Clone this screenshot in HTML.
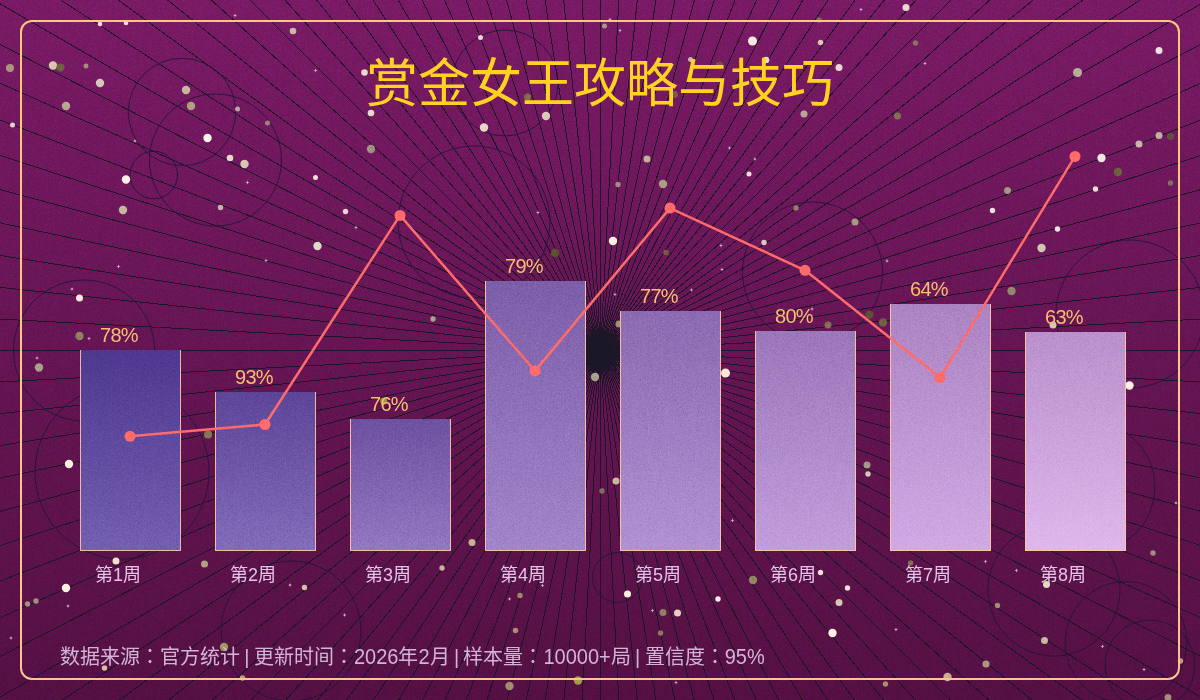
<!DOCTYPE html>
<html lang="zh-TW"><head><meta charset="utf-8">
<style>
html,body{margin:0;padding:0;}
body{width:1200px;height:700px;overflow:hidden;position:relative;font-family:"Liberation Sans",sans-serif;background:linear-gradient(180deg,rgb(122,26,102) 0%,rgb(99,20,81) 57%,rgb(85,16,67) 100%);}
svg{position:absolute;left:0;top:0;}
.title{position:absolute;left:0;width:1200px;top:50px;text-align:center;font-size:52px;line-height:68px;color:#ffd21f;}
.pct{position:absolute;font-size:20px;line-height:24px;color:#fbbd70;letter-spacing:-0.7px;}
.xl{position:absolute;top:562px;width:100px;text-align:center;font-size:18px;line-height:26px;color:#e6c3e6;}
.foot{position:absolute;left:60px;top:643px;font-size:20px;line-height:28px;color:#d4b4d4;white-space:nowrap;word-spacing:-1.2px;}
.d{display:inline-block;transform:scaleY(1.07);transform-origin:50% 75%;}
</style></head><body>
<svg width="1200" height="700" viewBox="0 0 1200 700">
<defs>
<filter id="noise" x="0" y="0" width="100%" height="100%" color-interpolation-filters="sRGB">
<feTurbulence type="fractalNoise" baseFrequency="1.4" numOctaves="1" seed="3"/>
<feColorMatrix type="matrix" values="0.33 0.33 0.33 0 0  0.33 0.33 0.33 0 0  0.33 0.33 0.33 0 0  0 0 0 0 1"/>
</filter>
</defs>
<g stroke="rgb(25,22,38)" stroke-opacity="0.95" stroke-width="1" fill="none" shape-rendering="crispEdges">
<line x1="600.5" y1="350.5" x2="1600.5" y2="350.5"/>
<line x1="600.5" y1="350.5" x2="1599.1" y2="402.8"/>
<line x1="600.5" y1="350.5" x2="1595.0" y2="455.0"/>
<line x1="600.5" y1="350.5" x2="1588.2" y2="506.9"/>
<line x1="600.5" y1="350.5" x2="1578.6" y2="558.4"/>
<line x1="600.5" y1="350.5" x2="1566.4" y2="609.3"/>
<line x1="600.5" y1="350.5" x2="1551.6" y2="659.5"/>
<line x1="600.5" y1="350.5" x2="1534.1" y2="708.9"/>
<line x1="600.5" y1="350.5" x2="1514.0" y2="757.2"/>
<line x1="600.5" y1="350.5" x2="1491.5" y2="804.5"/>
<line x1="600.5" y1="350.5" x2="1466.5" y2="850.5"/>
<line x1="600.5" y1="350.5" x2="1439.2" y2="895.1"/>
<line x1="600.5" y1="350.5" x2="1409.5" y2="938.3"/>
<line x1="600.5" y1="350.5" x2="1377.6" y2="979.8"/>
<line x1="600.5" y1="350.5" x2="1343.6" y2="1019.6"/>
<line x1="600.5" y1="350.5" x2="1307.6" y2="1057.6"/>
<line x1="600.5" y1="350.5" x2="1269.6" y2="1093.6"/>
<line x1="600.5" y1="350.5" x2="1229.8" y2="1127.6"/>
<line x1="600.5" y1="350.5" x2="1188.3" y2="1159.5"/>
<line x1="600.5" y1="350.5" x2="1145.1" y2="1189.2"/>
<line x1="600.5" y1="350.5" x2="1100.5" y2="1216.5"/>
<line x1="600.5" y1="350.5" x2="1054.5" y2="1241.5"/>
<line x1="600.5" y1="350.5" x2="1007.2" y2="1264.0"/>
<line x1="600.5" y1="350.5" x2="958.9" y2="1284.1"/>
<line x1="600.5" y1="350.5" x2="909.5" y2="1301.6"/>
<line x1="600.5" y1="350.5" x2="859.3" y2="1316.4"/>
<line x1="600.5" y1="350.5" x2="808.4" y2="1328.6"/>
<line x1="600.5" y1="350.5" x2="756.9" y2="1338.2"/>
<line x1="600.5" y1="350.5" x2="705.0" y2="1345.0"/>
<line x1="600.5" y1="350.5" x2="652.8" y2="1349.1"/>
<line x1="600.5" y1="350.5" x2="600.5" y2="1350.5"/>
<line x1="600.5" y1="350.5" x2="548.2" y2="1349.1"/>
<line x1="600.5" y1="350.5" x2="496.0" y2="1345.0"/>
<line x1="600.5" y1="350.5" x2="444.1" y2="1338.2"/>
<line x1="600.5" y1="350.5" x2="392.6" y2="1328.6"/>
<line x1="600.5" y1="350.5" x2="341.7" y2="1316.4"/>
<line x1="600.5" y1="350.5" x2="291.5" y2="1301.6"/>
<line x1="600.5" y1="350.5" x2="242.1" y2="1284.1"/>
<line x1="600.5" y1="350.5" x2="193.8" y2="1264.0"/>
<line x1="600.5" y1="350.5" x2="146.5" y2="1241.5"/>
<line x1="600.5" y1="350.5" x2="100.5" y2="1216.5"/>
<line x1="600.5" y1="350.5" x2="55.9" y2="1189.2"/>
<line x1="600.5" y1="350.5" x2="12.7" y2="1159.5"/>
<line x1="600.5" y1="350.5" x2="-28.8" y2="1127.6"/>
<line x1="600.5" y1="350.5" x2="-68.6" y2="1093.6"/>
<line x1="600.5" y1="350.5" x2="-106.6" y2="1057.6"/>
<line x1="600.5" y1="350.5" x2="-142.6" y2="1019.6"/>
<line x1="600.5" y1="350.5" x2="-176.6" y2="979.8"/>
<line x1="600.5" y1="350.5" x2="-208.5" y2="938.3"/>
<line x1="600.5" y1="350.5" x2="-238.2" y2="895.1"/>
<line x1="600.5" y1="350.5" x2="-265.5" y2="850.5"/>
<line x1="600.5" y1="350.5" x2="-290.5" y2="804.5"/>
<line x1="600.5" y1="350.5" x2="-313.0" y2="757.2"/>
<line x1="600.5" y1="350.5" x2="-333.1" y2="708.9"/>
<line x1="600.5" y1="350.5" x2="-350.6" y2="659.5"/>
<line x1="600.5" y1="350.5" x2="-365.4" y2="609.3"/>
<line x1="600.5" y1="350.5" x2="-377.6" y2="558.4"/>
<line x1="600.5" y1="350.5" x2="-387.2" y2="506.9"/>
<line x1="600.5" y1="350.5" x2="-394.0" y2="455.0"/>
<line x1="600.5" y1="350.5" x2="-398.1" y2="402.8"/>
<line x1="600.5" y1="350.5" x2="-399.5" y2="350.5"/>
<line x1="600.5" y1="350.5" x2="-398.1" y2="298.2"/>
<line x1="600.5" y1="350.5" x2="-394.0" y2="246.0"/>
<line x1="600.5" y1="350.5" x2="-387.2" y2="194.1"/>
<line x1="600.5" y1="350.5" x2="-377.6" y2="142.6"/>
<line x1="600.5" y1="350.5" x2="-365.4" y2="91.7"/>
<line x1="600.5" y1="350.5" x2="-350.6" y2="41.5"/>
<line x1="600.5" y1="350.5" x2="-333.1" y2="-7.9"/>
<line x1="600.5" y1="350.5" x2="-313.0" y2="-56.2"/>
<line x1="600.5" y1="350.5" x2="-290.5" y2="-103.5"/>
<line x1="600.5" y1="350.5" x2="-265.5" y2="-149.5"/>
<line x1="600.5" y1="350.5" x2="-238.2" y2="-194.1"/>
<line x1="600.5" y1="350.5" x2="-208.5" y2="-237.3"/>
<line x1="600.5" y1="350.5" x2="-176.6" y2="-278.8"/>
<line x1="600.5" y1="350.5" x2="-142.6" y2="-318.6"/>
<line x1="600.5" y1="350.5" x2="-106.6" y2="-356.6"/>
<line x1="600.5" y1="350.5" x2="-68.6" y2="-392.6"/>
<line x1="600.5" y1="350.5" x2="-28.8" y2="-426.6"/>
<line x1="600.5" y1="350.5" x2="12.7" y2="-458.5"/>
<line x1="600.5" y1="350.5" x2="55.9" y2="-488.2"/>
<line x1="600.5" y1="350.5" x2="100.5" y2="-515.5"/>
<line x1="600.5" y1="350.5" x2="146.5" y2="-540.5"/>
<line x1="600.5" y1="350.5" x2="193.8" y2="-563.0"/>
<line x1="600.5" y1="350.5" x2="242.1" y2="-583.1"/>
<line x1="600.5" y1="350.5" x2="291.5" y2="-600.6"/>
<line x1="600.5" y1="350.5" x2="341.7" y2="-615.4"/>
<line x1="600.5" y1="350.5" x2="392.6" y2="-627.6"/>
<line x1="600.5" y1="350.5" x2="444.1" y2="-637.2"/>
<line x1="600.5" y1="350.5" x2="496.0" y2="-644.0"/>
<line x1="600.5" y1="350.5" x2="548.2" y2="-648.1"/>
<line x1="600.5" y1="350.5" x2="600.5" y2="-649.5"/>
<line x1="600.5" y1="350.5" x2="652.8" y2="-648.1"/>
<line x1="600.5" y1="350.5" x2="705.0" y2="-644.0"/>
<line x1="600.5" y1="350.5" x2="756.9" y2="-637.2"/>
<line x1="600.5" y1="350.5" x2="808.4" y2="-627.6"/>
<line x1="600.5" y1="350.5" x2="859.3" y2="-615.4"/>
<line x1="600.5" y1="350.5" x2="909.5" y2="-600.6"/>
<line x1="600.5" y1="350.5" x2="958.9" y2="-583.1"/>
<line x1="600.5" y1="350.5" x2="1007.2" y2="-563.0"/>
<line x1="600.5" y1="350.5" x2="1054.5" y2="-540.5"/>
<line x1="600.5" y1="350.5" x2="1100.5" y2="-515.5"/>
<line x1="600.5" y1="350.5" x2="1145.1" y2="-488.2"/>
<line x1="600.5" y1="350.5" x2="1188.3" y2="-458.5"/>
<line x1="600.5" y1="350.5" x2="1229.8" y2="-426.6"/>
<line x1="600.5" y1="350.5" x2="1269.6" y2="-392.6"/>
<line x1="600.5" y1="350.5" x2="1307.6" y2="-356.6"/>
<line x1="600.5" y1="350.5" x2="1343.6" y2="-318.6"/>
<line x1="600.5" y1="350.5" x2="1377.6" y2="-278.8"/>
<line x1="600.5" y1="350.5" x2="1409.5" y2="-237.3"/>
<line x1="600.5" y1="350.5" x2="1439.2" y2="-194.1"/>
<line x1="600.5" y1="350.5" x2="1466.5" y2="-149.5"/>
<line x1="600.5" y1="350.5" x2="1491.5" y2="-103.5"/>
<line x1="600.5" y1="350.5" x2="1514.0" y2="-56.2"/>
<line x1="600.5" y1="350.5" x2="1534.1" y2="-7.9"/>
<line x1="600.5" y1="350.5" x2="1551.6" y2="41.5"/>
<line x1="600.5" y1="350.5" x2="1566.4" y2="91.7"/>
<line x1="600.5" y1="350.5" x2="1578.6" y2="142.6"/>
<line x1="600.5" y1="350.5" x2="1588.2" y2="194.1"/>
<line x1="600.5" y1="350.5" x2="1595.0" y2="246.0"/>
<line x1="600.5" y1="350.5" x2="1599.1" y2="298.2"/>
</g>
<g fill="none" stroke="rgb(30,20,55)" stroke-opacity="0.85" stroke-width="1">
<circle cx="182" cy="112" r="53.7"/>
<circle cx="215.5" cy="160" r="66"/>
<circle cx="153.75" cy="175" r="23.75"/>
<circle cx="505" cy="83" r="53"/>
<circle cx="474" cy="222" r="76"/>
<circle cx="84" cy="350.5" r="70.5"/>
<circle cx="812.5" cy="272" r="70"/>
<circle cx="1130" cy="314" r="74"/>
<circle cx="122" cy="472" r="87"/>
<circle cx="291" cy="631" r="70"/>
<circle cx="617.5" cy="577.5" r="25"/>
<circle cx="1090" cy="487" r="65"/>
<circle cx="1054" cy="590" r="66"/>
<circle cx="1126" cy="642.5" r="61"/>
<circle cx="1150" cy="665" r="45"/>
</g>
<circle cx="100" cy="24" r="2.3" fill="#f0e0d0"/>
<circle cx="126" cy="23" r="2.3" fill="#f0e0d0"/>
<circle cx="10" cy="68" r="4" fill="#a89880"/>
<circle cx="53" cy="65.5" r="4.2" fill="#d8c8b0"/>
<circle cx="60.5" cy="67.5" r="4" fill="#706040"/>
<circle cx="86" cy="66" r="2.5" fill="#a08f80"/>
<circle cx="100" cy="83" r="4.2" fill="#d8c8b8"/>
<circle cx="66" cy="106" r="4.2" fill="#b8a890"/>
<circle cx="12.5" cy="125" r="2.5" fill="#e8d0d0"/>
<circle cx="186" cy="90" r="4.2" fill="#c8b8a0"/>
<circle cx="191" cy="106" r="4.2" fill="#b0a080"/>
<circle cx="237.5" cy="109" r="2.5" fill="#b8a8a0"/>
<circle cx="267.5" cy="123" r="2.5" fill="#988878"/>
<circle cx="207.5" cy="138" r="4.2" fill="#fff4e8"/>
<circle cx="230" cy="158" r="3.3" fill="#e8d8c8"/>
<circle cx="244.5" cy="164" r="4.2" fill="#d8c8b0"/>
<circle cx="293" cy="31" r="3.3" fill="#c8b8a8"/>
<circle cx="480.5" cy="37.5" r="2.5" fill="#e8d8d0"/>
<circle cx="364.5" cy="72.5" r="3.3" fill="#e8d8d0"/>
<circle cx="371" cy="113" r="3.3" fill="#e8d8d0"/>
<circle cx="484" cy="127.5" r="4.2" fill="#e8d8c8"/>
<circle cx="546" cy="116" r="4.2" fill="#d8c8b8"/>
<circle cx="527.5" cy="97" r="3.5" fill="#807048"/>
<circle cx="371" cy="149" r="4.2" fill="#a09080"/>
<circle cx="604.5" cy="26" r="2.5" fill="#a89888"/>
<circle cx="752.5" cy="41" r="4.5" fill="#f8e8e0"/>
<circle cx="820.5" cy="42.5" r="2.7" fill="#d8c8c0"/>
<circle cx="690.5" cy="59.5" r="2.5" fill="#c8b8b0"/>
<circle cx="719.5" cy="65" r="3.5" fill="#705838"/>
<circle cx="766" cy="60" r="3.3" fill="#e8d8d0"/>
<circle cx="839" cy="67.5" r="3.5" fill="#e8d8d0"/>
<circle cx="674.5" cy="94.5" r="3.5" fill="#706040"/>
<circle cx="804" cy="114" r="3.5" fill="#b8a898"/>
<circle cx="897.5" cy="116" r="3.5" fill="#807050"/>
<circle cx="647" cy="159" r="3.5" fill="#c0b0a0"/>
<circle cx="819" cy="20" r="2.7" fill="#807050"/>
<circle cx="749" cy="174" r="2.5" fill="#f0e0d8"/>
<circle cx="906" cy="7.5" r="3.5" fill="#e8d8d0"/>
<circle cx="915.5" cy="43" r="2.7" fill="#887060"/>
<circle cx="1159" cy="50.5" r="3.5" fill="#f0e0e0"/>
<circle cx="1077.5" cy="72.5" r="4.5" fill="#b8b098"/>
<circle cx="1159" cy="135.5" r="3.5" fill="#c0b0a0"/>
<circle cx="1170.5" cy="136.5" r="3.5" fill="#605038"/>
<circle cx="1139" cy="144" r="3.5" fill="#c8b8a8"/>
<circle cx="1101.5" cy="158" r="4.2" fill="#f0e8e0"/>
<circle cx="1118" cy="172" r="4.2" fill="#706040"/>
<circle cx="126" cy="179.5" r="4.2" fill="#fff0e8"/>
<circle cx="123" cy="210" r="4.2" fill="#c8b8a0"/>
<circle cx="220.5" cy="207.5" r="2.7" fill="#c8b8a8"/>
<circle cx="79.5" cy="298" r="3.5" fill="#f8e8e0"/>
<circle cx="79.5" cy="336" r="4.2" fill="#908060"/>
<circle cx="315.5" cy="177.5" r="2.5" fill="#f0e0e0"/>
<circle cx="345.5" cy="211.5" r="2.7" fill="#e8d8d0"/>
<circle cx="317.5" cy="246" r="4.2" fill="#e0d8c8"/>
<circle cx="433" cy="319" r="2.7" fill="#b0a090"/>
<circle cx="555" cy="253" r="4.2" fill="#605030"/>
<circle cx="618" cy="184.5" r="2.7" fill="#a09080"/>
<circle cx="663" cy="184" r="4.2" fill="#a8a080"/>
<circle cx="613" cy="241" r="4.2" fill="#fff0e0"/>
<circle cx="666" cy="252.5" r="2.7" fill="#706040"/>
<circle cx="796" cy="208" r="2.7" fill="#908060"/>
<circle cx="855" cy="222" r="3.5" fill="#a89880"/>
<circle cx="764" cy="242.5" r="2.7" fill="#d8c8c0"/>
<circle cx="869.5" cy="314.5" r="4" fill="#605030"/>
<circle cx="883" cy="322.5" r="4.2" fill="#706040"/>
<circle cx="828" cy="325" r="3.5" fill="#807050"/>
<circle cx="619" cy="324" r="3.5" fill="#a09070"/>
<circle cx="1007.5" cy="190.5" r="3.5" fill="#a09880"/>
<circle cx="1095.5" cy="189" r="2.7" fill="#e8e0d8"/>
<circle cx="1170.5" cy="183" r="2.7" fill="#807060"/>
<circle cx="992.5" cy="210.5" r="2.7" fill="#f0e0e0"/>
<circle cx="1057.5" cy="229" r="2.7" fill="#f0e0e0"/>
<circle cx="1041.5" cy="248" r="4.2" fill="#d0c8b0"/>
<circle cx="1011.5" cy="291" r="4.2" fill="#908868"/>
<circle cx="1053" cy="325" r="3.5" fill="#d8c8b0"/>
<circle cx="39" cy="367.5" r="4.2" fill="#a8a088"/>
<circle cx="69" cy="464" r="4.2" fill="#f8f0e0"/>
<circle cx="208" cy="434.5" r="4" fill="#807850"/>
<circle cx="595" cy="377" r="4.2" fill="#a8a088"/>
<circle cx="383.75" cy="401" r="3.5" fill="#a09840"/>
<circle cx="725.5" cy="373" r="4.5" fill="#f8e8d8"/>
<circle cx="616" cy="481" r="3.5" fill="#c8b8a0"/>
<circle cx="602" cy="491" r="2.7" fill="#807060"/>
<circle cx="867" cy="465" r="3.5" fill="#a89880"/>
<circle cx="868" cy="474" r="2.7" fill="#d8c8b8"/>
<circle cx="1129.5" cy="385.5" r="4.2" fill="#fff0e0"/>
<circle cx="116" cy="561" r="3.5" fill="#f0e0d0"/>
<circle cx="204.5" cy="564" r="3.5" fill="#b0a080"/>
<circle cx="66" cy="588" r="4.2" fill="#fff0e0"/>
<circle cx="27.5" cy="604" r="2.7" fill="#a09080"/>
<circle cx="36" cy="601" r="2.7" fill="#a09080"/>
<circle cx="224" cy="647" r="4.2" fill="#a09860"/>
<circle cx="104.5" cy="668" r="2.7" fill="#d8c0a0"/>
<circle cx="242.5" cy="678" r="2.7" fill="#c8a070"/>
<circle cx="472" cy="542.5" r="3.5" fill="#c8b090"/>
<circle cx="442" cy="568" r="2.7" fill="#c8b0a0"/>
<circle cx="304.5" cy="587.5" r="2.7" fill="#d8c0b0"/>
<circle cx="520" cy="595.5" r="2.7" fill="#a08860"/>
<circle cx="515.5" cy="630.5" r="2.7" fill="#a89070"/>
<circle cx="509.5" cy="686" r="4.2" fill="#a09070"/>
<circle cx="578" cy="680.5" r="4.2" fill="#a0a040"/>
<circle cx="627.5" cy="594" r="3.5" fill="#fff0e0"/>
<circle cx="663" cy="612.5" r="3.5" fill="#908060"/>
<circle cx="677.5" cy="613" r="3.5" fill="#e0d0c0"/>
<circle cx="660.5" cy="633" r="2.7" fill="#907860"/>
<circle cx="718" cy="599" r="2.7" fill="#fff0e8"/>
<circle cx="753" cy="580" r="4.2" fill="#908860"/>
<circle cx="820.5" cy="572.5" r="2.7" fill="#f0e0d8"/>
<circle cx="847.5" cy="588" r="2.7" fill="#f0e0d8"/>
<circle cx="839" cy="602.5" r="3.5" fill="#d8c8b8"/>
<circle cx="832.5" cy="633" r="4.2" fill="#fff0e0"/>
<circle cx="885.5" cy="684" r="2.7" fill="#a09070"/>
<circle cx="910.5" cy="563" r="2.7" fill="#807050"/>
<circle cx="1046.5" cy="584.5" r="3.5" fill="#e8d8c0"/>
<circle cx="997.5" cy="605.5" r="2.7" fill="#a09070"/>
<circle cx="1044.5" cy="640.5" r="3.5" fill="#c8b8a0"/>
<circle cx="986" cy="664" r="3.5" fill="#a89880"/>
<circle cx="947.5" cy="677" r="4.2" fill="#c8b090"/>
<circle cx="1153" cy="553" r="2.7" fill="#a09080"/>
<circle cx="1180.5" cy="661" r="2.7" fill="#c0a070"/>
<circle cx="1168" cy="697.5" r="3.5" fill="#a09070"/>
<path d="M235 13.5L235.6 14.9L237 15.5L235.6 16.1L235 17.5L234.4 16.1L233 15.5L234.4 14.9Z" fill="#f0d8e8" fill-opacity="0.8"/>
<path d="M135 139L135.6 140.4L137 141L135.6 141.6L135 143L134.4 141.6L133 141L134.4 140.4Z" fill="#f0d8e8" fill-opacity="0.8"/>
<path d="M315.5 68.5L316.1 69.9L317.5 70.5L316.1 71.1L315.5 72.5L314.9 71.1L313.5 70.5L314.9 69.9Z" fill="#f0d8e8" fill-opacity="0.8"/>
<path d="M610 17.5L610.6 18.9L612 19.5L610.6 20.1L610 21.5L609.4 20.1L608 19.5L609.4 18.9Z" fill="#f0d8e8" fill-opacity="0.8"/>
<path d="M861 7.5L861.6 8.9L863 9.5L861.6 10.1L861 11.5L860.4 10.1L859 9.5L860.4 8.9Z" fill="#f0d8e8" fill-opacity="0.8"/>
<path d="M620 28.5L620.6 29.9L622 30.5L620.6 31.1L620 32.5L619.4 31.1L618 30.5L619.4 29.9Z" fill="#f0d8e8" fill-opacity="0.8"/>
<path d="M729.5 146L730.1 147.4L731.5 148L730.1 148.6L729.5 150L728.9 148.6L727.5 148L728.9 147.4Z" fill="#f0d8e8" fill-opacity="0.8"/>
<path d="M755 157L755.6 158.4L757 159L755.6 159.6L755 161L754.4 159.6L753 159L754.4 158.4Z" fill="#f0d8e8" fill-opacity="0.8"/>
<path d="M925 61.5L925.6 62.9L927 63.5L925.6 64.1L925 65.5L924.4 64.1L923 63.5L924.4 62.9Z" fill="#f0d8e8" fill-opacity="0.8"/>
<path d="M247.5 180.5L248.1 181.9L249.5 182.5L248.1 183.1L247.5 184.5L246.9 183.1L245.5 182.5L246.9 181.9Z" fill="#f0d8e8" fill-opacity="0.8"/>
<path d="M118.5 264.5L119.1 265.9L120.5 266.5L119.1 267.1L118.5 268.5L117.9 267.1L116.5 266.5L117.9 265.9Z" fill="#f0d8e8" fill-opacity="0.8"/>
<path d="M72 287L72.6 288.4L74 289L72.6 289.6L72 291L71.4 289.6L70 289L71.4 288.4Z" fill="#f0d8e8" fill-opacity="0.8"/>
<path d="M266 258.5L266.6 259.9L268 260.5L266.6 261.1L266 262.5L265.4 261.1L264 260.5L265.4 259.9Z" fill="#f0d8e8" fill-opacity="0.8"/>
<path d="M89 336.5L89.6 337.9L91 338.5L89.6 339.1L89 340.5L88.4 339.1L87 338.5L88.4 337.9Z" fill="#f0d8e8" fill-opacity="0.8"/>
<path d="M356 225.5L356.6 226.9L358 227.5L356.6 228.1L356 229.5L355.4 228.1L354 227.5L355.4 226.9Z" fill="#f0d8e8" fill-opacity="0.8"/>
<path d="M538 210.5L538.6 211.9L540 212.5L538.6 213.1L538 214.5L537.4 213.1L536 212.5L537.4 211.9Z" fill="#f0d8e8" fill-opacity="0.8"/>
<path d="M721 243.5L721.6 244.9L723 245.5L721.6 246.1L721 247.5L720.4 246.1L719 245.5L720.4 244.9Z" fill="#f0d8e8" fill-opacity="0.8"/>
<path d="M722 267.5L722.6 268.9L724 269.5L722.6 270.1L722 271.5L721.4 270.1L720 269.5L721.4 268.9Z" fill="#f0d8e8" fill-opacity="0.8"/>
<path d="M691.5 288L692.1 289.4L693.5 290L692.1 290.6L691.5 292L690.9 290.6L689.5 290L690.9 289.4Z" fill="#f0d8e8" fill-opacity="0.8"/>
<path d="M615 292.5L615.6 293.9L617 294.5L615.6 295.1L615 296.5L614.4 295.1L613 294.5L614.4 293.9Z" fill="#f0d8e8" fill-opacity="0.8"/>
<path d="M887 259L887.6 260.4L889 261L887.6 261.6L887 263L886.4 261.6L885 261L886.4 260.4Z" fill="#f0d8e8" fill-opacity="0.8"/>
<path d="M812 307L812.6 308.4L814 309L812.6 309.6L812 311L811.4 309.6L810 309L811.4 308.4Z" fill="#f0d8e8" fill-opacity="0.8"/>
<path d="M37 356L37.6 357.4L39 358L37.6 358.6L37 360L36.4 358.6L35 358L36.4 357.4Z" fill="#f0d8e8" fill-opacity="0.8"/>
<path d="M732.5 518.5L733.1 519.9L734.5 520.5L733.1 521.1L732.5 522.5L731.9 521.1L730.5 520.5L731.9 519.9Z" fill="#f0d8e8" fill-opacity="0.8"/>
<path d="M1176 501L1176.6 502.4L1178 503L1176.6 503.6L1176 505L1175.4 503.6L1174 503L1175.4 502.4Z" fill="#f0d8e8" fill-opacity="0.8"/>
<path d="M68 604L68.6 605.4L70 606L68.6 606.6L68 608L67.4 606.6L66 606L67.4 605.4Z" fill="#f0d8e8" fill-opacity="0.8"/>
<path d="M11 636L11.6 637.4L13 638L11.6 638.6L11 640L10.4 638.6L9 638L10.4 637.4Z" fill="#f0d8e8" fill-opacity="0.8"/>
<path d="M290 583L290.6 584.4L292 585L290.6 585.6L290 587L289.4 585.6L288 585L289.4 584.4Z" fill="#f0d8e8" fill-opacity="0.8"/>
<path d="M344.5 613L345.1 614.4L346.5 615L345.1 615.6L344.5 617L343.9 615.6L342.5 615L343.9 614.4Z" fill="#f0d8e8" fill-opacity="0.8"/>
<path d="M509.5 597L510.1 598.4L511.5 599L510.1 599.6L509.5 601L508.9 599.6L507.5 599L508.9 598.4Z" fill="#f0d8e8" fill-opacity="0.8"/>
<path d="M542.5 583.5L543.1 584.9L544.5 585.5L543.1 586.1L542.5 587.5L541.9 586.1L540.5 585.5L541.9 584.9Z" fill="#f0d8e8" fill-opacity="0.8"/>
<path d="M652.5 608.5L653.1 609.9L654.5 610.5L653.1 611.1L652.5 612.5L651.9 611.1L650.5 610.5L651.9 609.9Z" fill="#f0d8e8" fill-opacity="0.8"/>
<path d="M676 680.5L676.6 681.9L678 682.5L676.6 683.1L676 684.5L675.4 683.1L674 682.5L675.4 681.9Z" fill="#f0d8e8" fill-opacity="0.8"/>
<path d="M896 627.5L896.6 628.9L898 629.5L896.6 630.1L896 631.5L895.4 630.1L894 629.5L895.4 628.9Z" fill="#f0d8e8" fill-opacity="0.8"/>
<path d="M985.5 559.5L986.1 560.9L987.5 561.5L986.1 562.1L985.5 563.5L984.9 562.1L983.5 561.5L984.9 560.9Z" fill="#f0d8e8" fill-opacity="0.8"/>
<path d="M1016.5 568.5L1017.1 569.9L1018.5 570.5L1017.1 571.1L1016.5 572.5L1015.9 571.1L1014.5 570.5L1015.9 569.9Z" fill="#f0d8e8" fill-opacity="0.8"/>
<path d="M1102.5 644.5L1103.1 645.9L1104.5 646.5L1103.1 647.1L1102.5 648.5L1101.9 647.1L1100.5 646.5L1101.9 645.9Z" fill="#f0d8e8" fill-opacity="0.8"/>
<path d="M1144 667.5L1144.6 668.9L1146 669.5L1144.6 670.1L1144 671.5L1143.4 670.1L1142 669.5L1143.4 668.9Z" fill="#f0d8e8" fill-opacity="0.8"/>
<linearGradient id="bg0" x1="0" y1="0" x2="0" y2="1"><stop offset="0" stop-color="rgb(78,56,143)"/><stop offset="1" stop-color="rgb(116,95,177)"/></linearGradient>
<rect x="80" y="350" width="101" height="201" fill="url(#bg0)"/>
<linearGradient id="bg1" x1="0" y1="0" x2="0" y2="1"><stop offset="0" stop-color="rgb(93,69,152)"/><stop offset="1" stop-color="rgb(131,108,186)"/></linearGradient>
<rect x="215" y="392" width="101" height="159" fill="url(#bg1)"/>
<linearGradient id="bg2" x1="0" y1="0" x2="0" y2="1"><stop offset="0" stop-color="rgb(109,81,160)"/><stop offset="1" stop-color="rgb(147,120,194)"/></linearGradient>
<rect x="350" y="419" width="101" height="132" fill="url(#bg2)"/>
<linearGradient id="bg3" x1="0" y1="0" x2="0" y2="1"><stop offset="0" stop-color="rgb(124,94,169)"/><stop offset="1" stop-color="rgb(162,133,203)"/></linearGradient>
<rect x="485" y="281" width="101" height="270" fill="url(#bg3)"/>
<linearGradient id="bg4" x1="0" y1="0" x2="0" y2="1"><stop offset="0" stop-color="rgb(140,106,177)"/><stop offset="1" stop-color="rgb(178,145,211)"/></linearGradient>
<rect x="620" y="311" width="101" height="240" fill="url(#bg4)"/>
<linearGradient id="bg5" x1="0" y1="0" x2="0" y2="1"><stop offset="0" stop-color="rgb(155,119,186)"/><stop offset="1" stop-color="rgb(193,158,220)"/></linearGradient>
<rect x="755" y="331" width="101" height="220" fill="url(#bg5)"/>
<linearGradient id="bg6" x1="0" y1="0" x2="0" y2="1"><stop offset="0" stop-color="rgb(171,131,194)"/><stop offset="1" stop-color="rgb(209,170,228)"/></linearGradient>
<rect x="890" y="304" width="101" height="247" fill="url(#bg6)"/>
<linearGradient id="bg7" x1="0" y1="0" x2="0" y2="1"><stop offset="0" stop-color="rgb(186,144,203)"/><stop offset="1" stop-color="rgb(224,183,237)"/></linearGradient>
<rect x="1025" y="332" width="101" height="219" fill="url(#bg7)"/>
<path d="M80.5 350V550.5H180.5V350" fill="none" stroke="#ffc8a0" stroke-opacity="0.9" stroke-width="1"/>
<path d="M215.5 392V550.5H315.5V392" fill="none" stroke="#ffc8a0" stroke-opacity="0.9" stroke-width="1"/>
<path d="M350.5 419V550.5H450.5V419" fill="none" stroke="#ffc8a0" stroke-opacity="0.9" stroke-width="1"/>
<path d="M485.5 281V550.5H585.5V281" fill="none" stroke="#ffc8a0" stroke-opacity="0.9" stroke-width="1"/>
<path d="M620.5 311V550.5H720.5V311" fill="none" stroke="#ffc8a0" stroke-opacity="0.9" stroke-width="1"/>
<path d="M755.5 331V550.5H855.5V331" fill="none" stroke="#ffc8a0" stroke-opacity="0.9" stroke-width="1"/>
<path d="M890.5 304V550.5H990.5V304" fill="none" stroke="#ffc8a0" stroke-opacity="0.9" stroke-width="1"/>
<path d="M1025.5 332V550.5H1125.5V332" fill="none" stroke="#ffc8a0" stroke-opacity="0.9" stroke-width="1"/>
<path d="M130 436.3 L265 424.5 L400 215.4 L535 370.9 L670 208.1 L805 270.3 L940 377.6 L1075 156.4" fill="none" stroke="#ff6b6b" stroke-width="2.5" stroke-linejoin="round"/>
<circle cx="130" cy="436.3" r="5.5" fill="#ff6b6b"/>
<circle cx="265" cy="424.5" r="5.5" fill="#ff6b6b"/>
<circle cx="400" cy="215.4" r="5.5" fill="#ff6b6b"/>
<circle cx="535" cy="370.9" r="5.5" fill="#ff6b6b"/>
<circle cx="670" cy="208.1" r="5.5" fill="#ff6b6b"/>
<circle cx="805" cy="270.3" r="5.5" fill="#ff6b6b"/>
<circle cx="940" cy="377.6" r="5.5" fill="#ff6b6b"/>
<circle cx="1075" cy="156.4" r="5.5" fill="#ff6b6b"/>
<linearGradient id="fg" gradientUnits="userSpaceOnUse" x1="0" y1="20" x2="0" y2="680"><stop offset="0" stop-color="#ffca74"/><stop offset="1" stop-color="#ffc196"/></linearGradient>
<rect x="21" y="21" width="1158" height="658" rx="11" ry="11" fill="none" stroke="url(#fg)" stroke-width="2"/>
<rect width="1200" height="700" fill="#808080" filter="url(#noise)" style="mix-blend-mode:overlay" opacity="0.38"/>
</svg>
<div class="title">赏金女王攻略与技巧</div>
<div class="pct" style="left:100px;top:323px">78%</div>
<div class="xl" style="left:68px">第1周</div>
<div class="pct" style="left:235px;top:365px">93%</div>
<div class="xl" style="left:203px">第2周</div>
<div class="pct" style="left:370px;top:392px">76%</div>
<div class="xl" style="left:338px">第3周</div>
<div class="pct" style="left:505px;top:254px">79%</div>
<div class="xl" style="left:473px">第4周</div>
<div class="pct" style="left:640px;top:284px">77%</div>
<div class="xl" style="left:608px">第5周</div>
<div class="pct" style="left:775px;top:304px">80%</div>
<div class="xl" style="left:743px">第6周</div>
<div class="pct" style="left:910px;top:277px">64%</div>
<div class="xl" style="left:878px">第7周</div>
<div class="pct" style="left:1045px;top:305px">63%</div>
<div class="xl" style="left:1013px">第8周</div>
<div class="foot">数据来源：官方统计 | 更新时间：<span class="d">2026</span>年<span class="d">2</span>月 | 样本量：<span class="d">10000+</span>局 | 置信度：<span class="d">95%</span></div>
</body></html>
